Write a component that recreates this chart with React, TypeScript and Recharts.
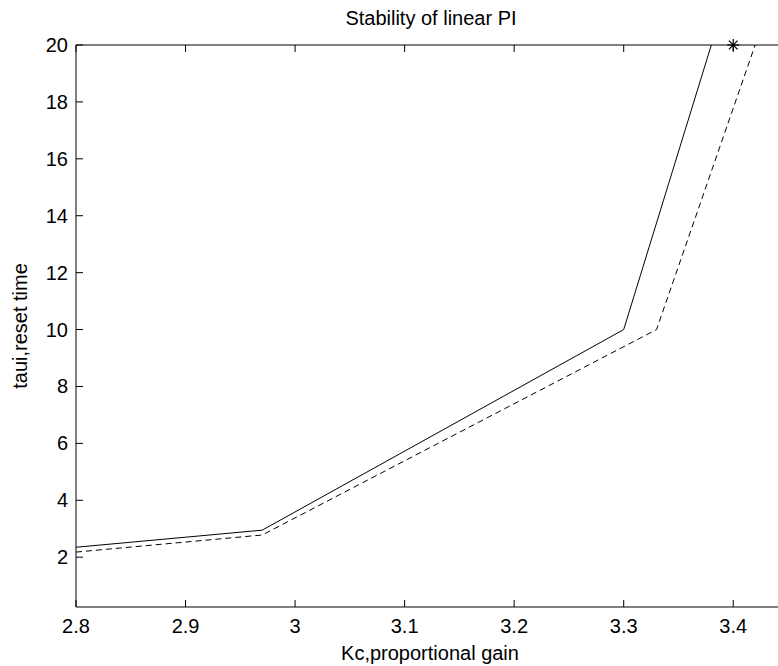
import React from 'react';
import { ComposedChart, Line, Scatter, XAxis, YAxis } from 'recharts';

// solid curve (stability limit)
const kcSolid = [2.8, 2.97, 3.3, 3.38];
const tauSolid = [2.35, 2.95, 10, 20];
// dashed curve
const kcDashed = [2.8, 2.97, 3.33, 3.42];
const tauDashed = [2.18, 2.78, 10, 20];
// marked point
const kcStar = [3.4];
const tauStar = [20];

const xTicks = [2.8, 2.9, 3, 3.1, 3.2, 3.3, 3.4];
const yTicks = [2, 4, 6, 8, 10, 12, 14, 16, 18, 20];

const solidData = kcSolid.map((kc, i) => ({ kc, tau: tauSolid[i] }));
const dashedData = kcDashed.map((kc, i) => ({ kc, tau: tauDashed[i] }));
const starData = kcStar.map((kc, i) => ({ kc, tau: tauStar[i] }));

const FONT = '"Liberation Sans", Arial, Helvetica, sans-serif';
const INK = '#000';

const BottomTick = (props: any) => {
  const { x, y, payload } = props;
  return (
    <g>
      <line x1={x} y1={y} x2={x} y2={y - 7} stroke={INK} strokeWidth={1} />
      <text x={x} y={y + 26} textAnchor="middle" fontSize={20} fontFamily={FONT} fill={INK}>
        {payload.value}
      </text>
    </g>
  );
};

// top box edge: ticks only, pointing down into the plot
const TopTick = (props: any) => {
  const { x, y } = props;
  return <line x1={x} y1={y} x2={x} y2={y + 7} stroke={INK} strokeWidth={1} />;
};

const LeftTick = (props: any) => {
  const { x, y, payload } = props;
  return (
    <g>
      <line x1={x} y1={y} x2={x + 7} y2={y} stroke={INK} strokeWidth={1} />
      <text x={x - 8} y={y + 7} textAnchor="end" fontSize={20} fontFamily={FONT} fill={INK}>
        {payload.value}
      </text>
    </g>
  );
};

const Star = (props: any) => {
  const { cx, cy } = props;
  const r = 6;
  const d = r * 0.72;
  return (
    <g stroke={INK} strokeWidth={1.2}>
      <line x1={cx - r} y1={cy} x2={cx + r} y2={cy} />
      <line x1={cx} y1={cy - r} x2={cx} y2={cy + r} />
      <line x1={cx - d} y1={cy - d} x2={cx + d} y2={cy + d} />
      <line x1={cx - d} y1={cy + d} x2={cx + d} y2={cy - d} />
    </g>
  );
};

export default function App() {
  return (
    <div style={{ position: 'absolute', left: 0, top: 0, width: 778, height: 666, overflow: 'hidden', background: '#fff' }}>
      <ComposedChart width={800} height={666} margin={{ top: 44, right: 12, bottom: 0, left: 0 }}>
        <XAxis
          xAxisId="bottom"
          dataKey="kc"
          type="number"
          domain={[2.8, 3.45]}
          ticks={xTicks}
          height={59}
          tickSize={0}
          tickMargin={0}
          tickLine={false}
          axisLine={{ stroke: INK }}
          tick={<BottomTick />}
          interval={0}
        />
        <XAxis
          xAxisId="top"
          orientation="top"
          dataKey="kc"
          type="number"
          domain={[2.8, 3.45]}
          ticks={xTicks}
          height={1}
          tickSize={0}
          tickMargin={0}
          tickLine={false}
          axisLine={{ stroke: INK }}
          tick={<TopTick />}
          interval={0}
        />
        <YAxis
          yAxisId="left"
          dataKey="tau"
          type="number"
          domain={[0.25, 20]}
          ticks={yTicks}
          width={76}
          tickSize={0}
          tickMargin={0}
          tickLine={false}
          axisLine={{ stroke: INK }}
          tick={<LeftTick />}
          interval={0}
        />
        <Line
          xAxisId="bottom"
          yAxisId="left"
          data={solidData}
          dataKey="tau"
          type="linear"
          stroke={INK}
          strokeWidth={1}
          dot={false}
          activeDot={false}
          isAnimationActive={false}
        />
        <Line
          xAxisId="top"
          yAxisId="left"
          data={dashedData}
          dataKey="tau"
          type="linear"
          stroke={INK}
          strokeWidth={1}
          strokeDasharray="6 4"
          dot={false}
          activeDot={false}
          isAnimationActive={false}
        />
        <Scatter
          xAxisId="bottom"
          yAxisId="left"
          data={starData}
          dataKey="tau"
          shape={<Star />}
          isAnimationActive={false}
        />
        <text x={431} y={25} textAnchor="middle" fontSize={20} fontFamily={FONT} fill={INK}>
          Stability of linear PI
        </text>
        <text x={430} y={660} textAnchor="middle" fontSize={20} fontFamily={FONT} fill={INK}>
          Kc,proportional gain
        </text>
        <text
          x={27}
          y={326}
          textAnchor="middle"
          fontSize={20}
          fontFamily={FONT}
          fill={INK}
          transform="rotate(-90 27 326)"
        >
          taui,reset time
        </text>
      </ComposedChart>
    </div>
  );
}
